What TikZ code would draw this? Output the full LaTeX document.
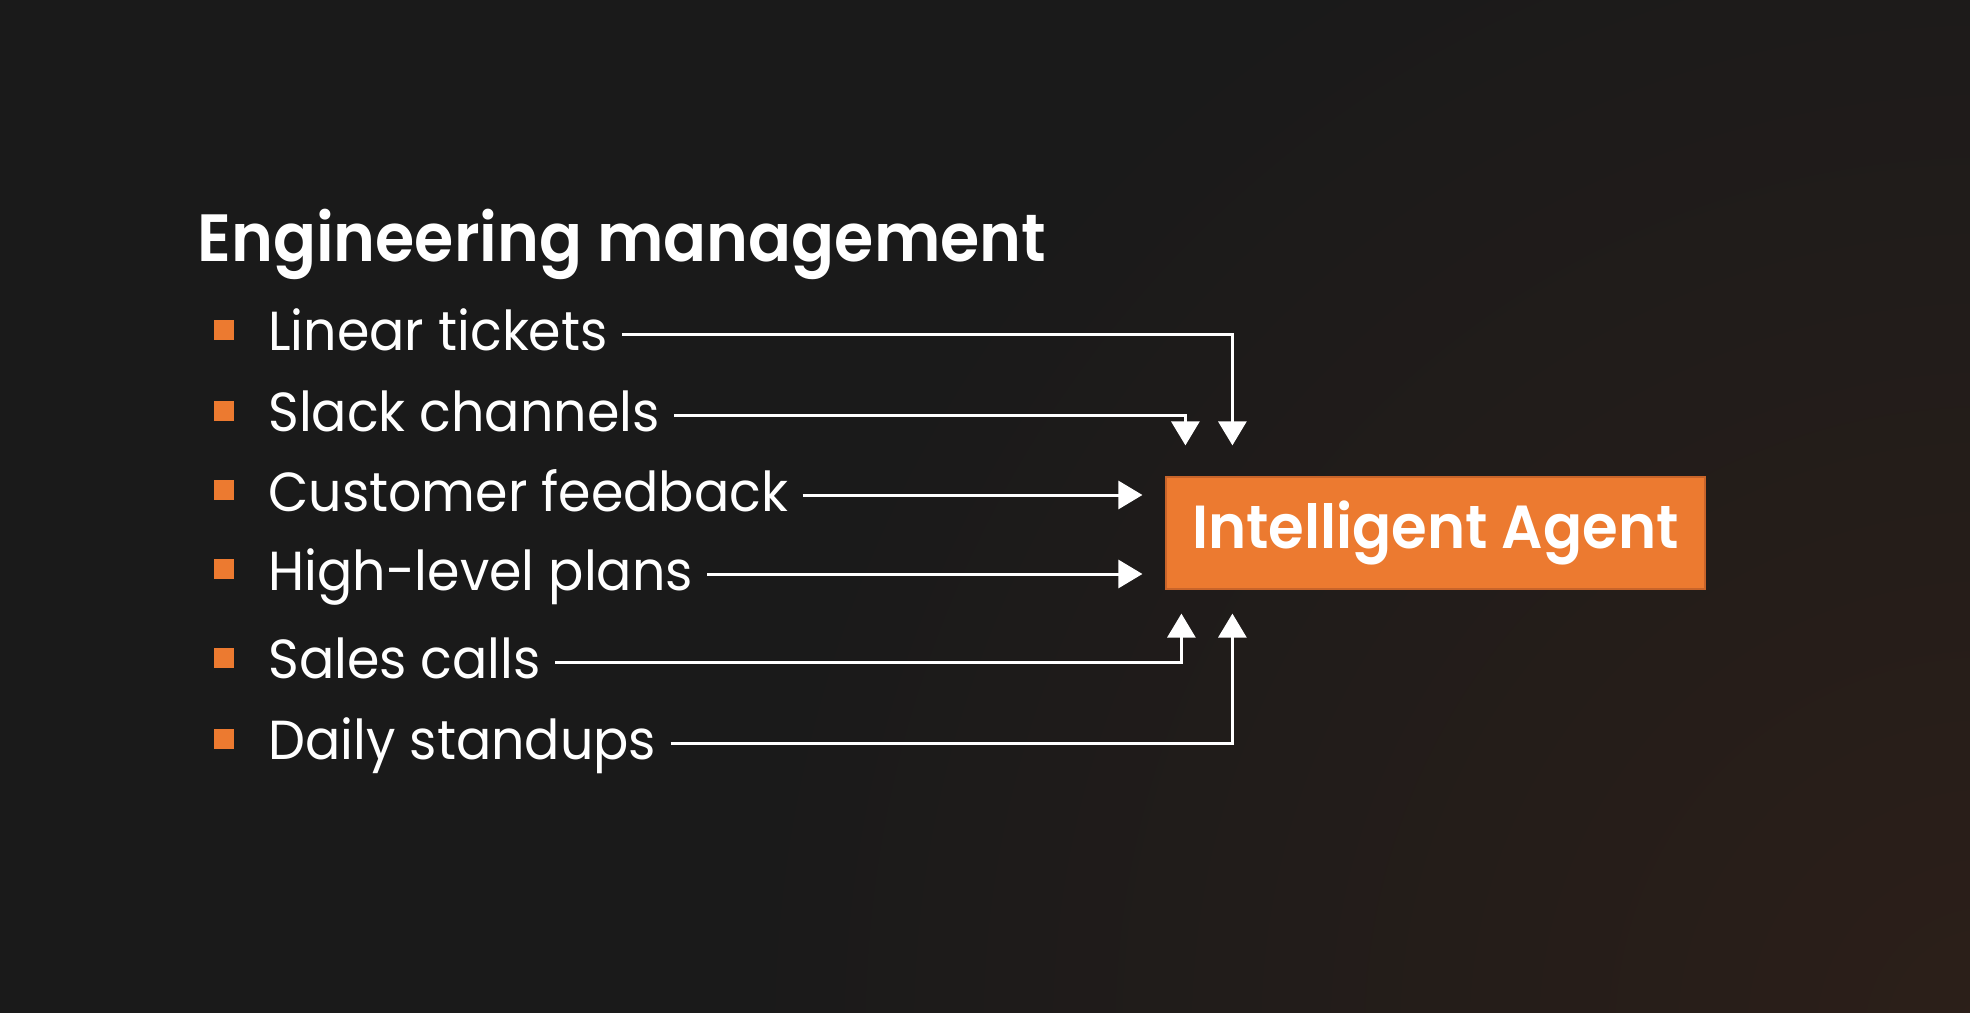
\documentclass[tikz,border=0pt]{standalone}
\usepackage{fontspec}
\setmainfont{Poppins}
\newfontfamily\itemfont[FakeStretch=0.95]{Poppins}
\newfontfamily\headfont[FakeStretch=0.95]{Poppins SemiBold}
\usetikzlibrary{arrows.meta}
\definecolor{bg}{HTML}{1A1A1A}
\definecolor{org}{HTML}{EC7A30}
\definecolor{orgdark}{HTML}{C8642A}
\definecolor{glow}{HTML}{2C1F19}
\begin{document}
\begin{tikzpicture}[x=0.5pt,y=-0.5pt,
  item/.style={anchor=base west, inner sep=0pt, text=white, font=\itemfont\fontsize{27.5}{32}\selectfont},
  bullet/.style={fill=org, minimum size=10pt, inner sep=0pt},
  arr/.style={draw=white, line width=1.5pt, -{Triangle[width=14pt,length=12pt]}},
]
\useasboundingbox (0,0) rectangle (1970,1012);
\fill[bg] (-20,-20) rectangle (1990,1032);
\begin{scope}
\clip (-20,-20) rectangle (1990,1032);
\shade[inner color=glow, outer color=bg] (1990,1032) circle (1250);
\end{scope}
\node[font=\headfont\fontsize{33.4}{40}\selectfont, text=white, anchor=base west, inner sep=0pt] (title) at (197,261) {Engineering management};
\node[bullet] (b1) at (224,330) {};
\node[bullet] (b2) at (224,411) {};
\node[bullet] (b3) at (224,490) {};
\node[bullet] (b4) at (224,569) {};
\node[bullet] (b5) at (224,658) {};
\node[bullet] (b6) at (224,739) {};
\node[item] (t1) at (268,350) {Linear tickets};
\node[item] (t2) at (268,431) {Slack channels};
\node[item] (t3) at (268,511) {Customer feedback};
\node[item] (t4) at (268,590) {High-level plans};
\node[item] (t5) at (268,678) {Sales calls};
\node[item] (t6) at (268,759) {Daily standups};
\node[fill=org, draw=orgdark, line width=0.6pt, minimum width=269.5pt, minimum height=56pt, inner sep=0pt, text=white, font=\headfont\fontsize{30.4}{36}\selectfont] (agent) at (1435.5,533) {Intelligent Agent};
\coordinate (s1) at ([xshift=7pt,yshift=8pt]t1.base east);
\coordinate (s2) at ([xshift=7pt,yshift=8pt]t2.base east);
\coordinate (s3) at ([xshift=7pt,yshift=8pt]t3.base east);
\coordinate (s4) at ([xshift=7pt,yshift=8pt]t4.base east);
\coordinate (s5) at ([xshift=7pt,yshift=8pt]t5.base east);
\coordinate (s6) at ([xshift=7pt,yshift=8pt]t6.base east);
\coordinate (e1) at ([xshift=33.5pt,yshift=15.5pt]agent.north west);
\coordinate (e2) at ([xshift=10pt,yshift=15.5pt]agent.north west);
\coordinate (e3) at ([xshift=-11.5pt]agent.west);
\coordinate (e5) at ([xshift=8pt,yshift=-12pt]agent.south west);
\coordinate (e6) at ([xshift=33.5pt,yshift=-12pt]agent.south west);
\draw[arr] (s1) -| (e1);
\draw[arr] (s2) -| (e2);
\draw[arr] (s3) -- (s3 -| e3);
\draw[arr] (s4) -- (s4 -| e3);
\draw[arr] (s5) -| (e5);
\draw[arr] (s6) -| (e6);
\end{tikzpicture}
\end{document}
